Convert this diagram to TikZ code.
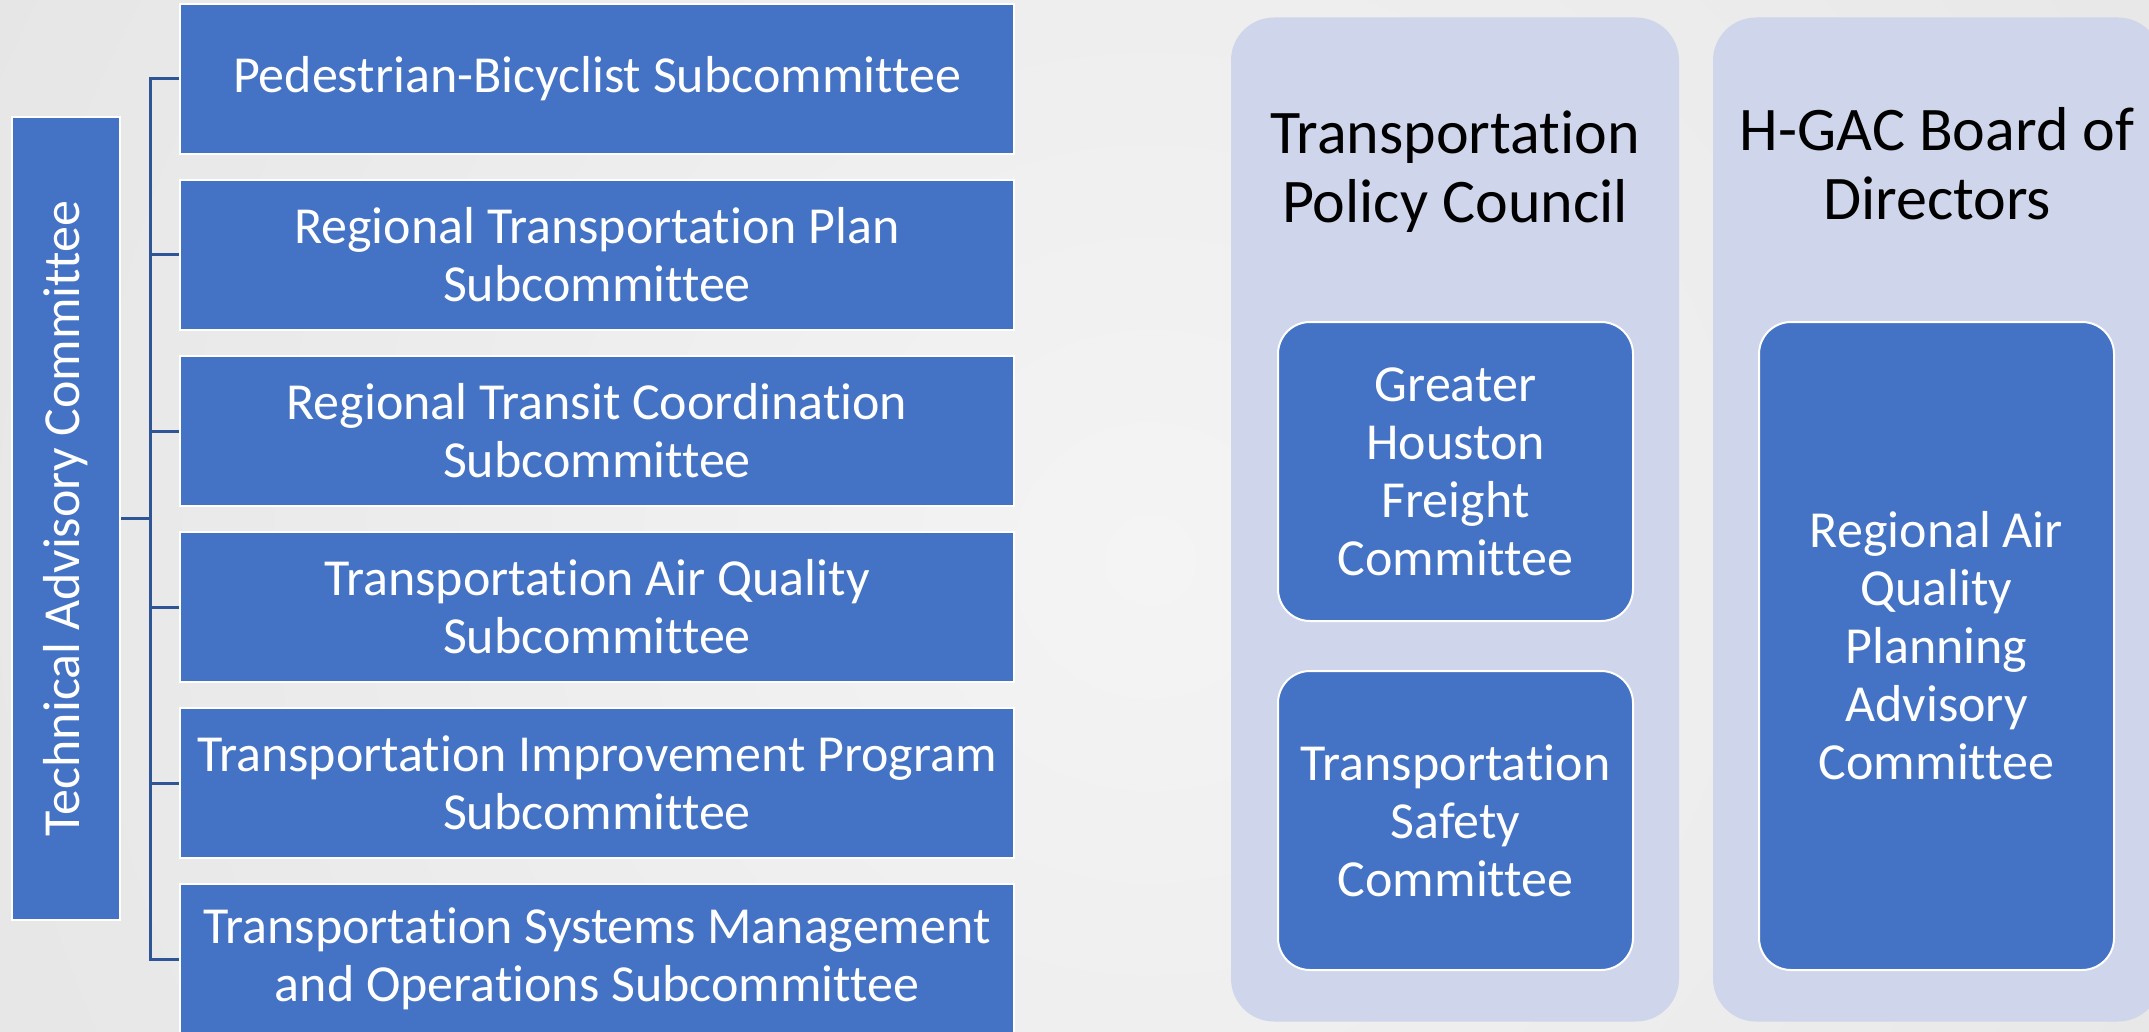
\documentclass[tikz,border=0pt]{standalone}
\usepackage{fontspec}
\setmainfont[Ligatures=NoCommon]{Carlito}
\usetikzlibrary{positioning}
\definecolor{boxblue}{HTML}{4472C4}
\definecolor{linkblue}{HTML}{2F5597}
\definecolor{panelgray}{HTML}{CFD5EA}
\definecolor{bgmid}{HTML}{F4F4F4}
\definecolor{bgedge}{HTML}{DADADA}

\begin{document}
\begin{tikzpicture}[x=1pt,y=-1pt]
                \tikzstyle{subbox}=[draw=white, line width=2pt, fill=boxblue, text=white, align=center, inner sep=0pt, minimum width=834pt, minimum height=150pt, font=\fontsize{52}{58}\selectfont]
                \tikzstyle{innerbox}=[subbox, rounded corners=32pt, minimum width=355pt]
                \tikzstyle{panel}=[fill=panelgray, rounded corners=43pt, minimum width=448pt, minimum height=1004pt, inner sep=0pt]
                \tikzstyle{paneltitle}=[align=center, font=\fontsize{62}{69}\selectfont]
                \tikzstyle{link}=[draw=linkblue, line width=3pt]
                
                \useasboundingbox (0,0) rectangle (2149,1032);
                \begin{scope}
                \clip (0,0) rectangle (2149,1032);
                \shade[inner color=bgmid, outer color=bgedge] (1150,560) circle (2400);
                \end{scope}
                
                % technical advisory committee and its subcommittees
                \node[subbox, rotate=90, minimum width=803pt, minimum height=108pt] (tac) at (66,518.5) {Technical Advisory Committee};
                
                \node[subbox] (sc1) at (597,79) {Pedestrian-Bicyclist Subcommittee};
                \node[subbox, below=24pt of sc1] (sc2) {Regional Transportation Plan\\Subcommittee};
                \node[subbox, below=24pt of sc2] (sc3) {Regional Transit Coordination\\Subcommittee};
                \node[subbox, below=24pt of sc3] (sc4) {Transportation Air Quality\\Subcommittee};
                \node[subbox, below=24pt of sc4] (sc5) {Transportation Improvement Program\\Subcommittee};
                \node[subbox, below=24pt of sc5] (sc6) {Transportation Systems Management\\and Operations Subcommittee};
                
                \foreach \i in {1,...,6}
                    \draw[link] (sc\i.west) -- ++(-29,0);
                \draw[link, line cap=rect] ([xshift=-29pt]sc1.west) -- ([xshift=-29pt]sc6.west);
                \draw[link] (tac.south) -- ([xshift=-29pt]tac.south -| sc1.west);
                
                % policy council and board
                \node[panel] (tpc) at (1455,519.5) {};
                \node[panel] (board) at (1937,519.5) {};
                
                \node[paneltitle] (tpctitle) at (1455,172) {Transportation\\Policy Council};
                \node[paneltitle] (boardtitle) at (1937,164) {H-GAC Board of\\Directors};
                
                \node[innerbox, minimum height=299pt] (freight) at (1455.5,471.5) {Greater\\Houston\\Freight\\Committee};
                \node[innerbox, minimum height=299pt, below=48pt of freight] (safety) {Transportation\\Safety\\Committee};
                \node[innerbox, minimum height=648pt] (raqpac) at (1936.5,646) {Regional Air\\Quality\\Planning\\Advisory\\Committee};
                
\end{tikzpicture}
\end{document}
